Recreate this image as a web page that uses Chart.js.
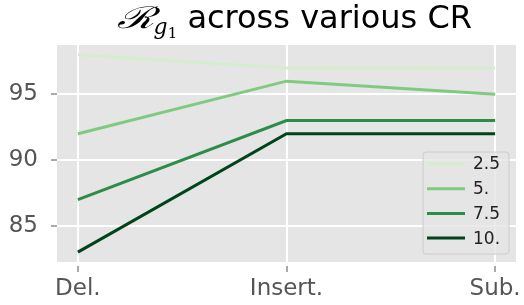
<!DOCTYPE html>
<html>
<head>
<meta charset="utf-8">
<script src="https://cdn.jsdelivr.net/npm/chart.js@4.4.0/dist/chart.umd.min.js"></script>
<style>
  html, body { margin: 0; padding: 0; background: #fff; }
  #wrap { width: 524px; height: 305px; }
</style>
</head>
<body>
<div id="wrap"><canvas id="chart"></canvas></div>
<script>
const categories = ["Del.", "Insert.", "Sub."];
const seriesLabels = ["2.5", "5.", "7.5", "10."];
const cr25 = [98, 97, 97];
const cr5 = [92, 96, 95];
const cr75 = [87, 93, 93];
const cr10 = [83, 92, 92];
const yTicks = [85, 90, 95];
const colors = ["#d3eecd", "#80ca7f", "#2c8c48", "#00441b"];

const seriesValues = [cr25, cr5, cr75, cr10];
const textGray = "#555555";

// gray panel behind the plot
const panelBg = {
  id: "panelBg",
  beforeDraw(chart) {
    const { ctx, chartArea: a } = chart;
    ctx.save();
    ctx.fillStyle = "#e5e5e5";
    ctx.fillRect(a.left, a.top, a.right - a.left, a.bottom - a.top);
    ctx.restore();
  }
};

// title with the math subscript
const mathTitle = {
  id: "mathTitle",
  afterDraw(chart) {
    const { ctx } = chart;
    const parts = [
      { t: "\u211B", font: "italic 30px 'DejaVu Serif'", dy: 0, w: 37 },
      { t: "g", font: "italic 22px 'DejaVu Serif'", dy: 6 },
      { t: "1", font: "15px 'DejaVu Serif'", dy: 10 },
      { t: " across various CR", font: "32px 'DejaVu Sans'", dy: 0 }
    ];
    ctx.save();
    let total = 0;
    parts.forEach(p => {
      ctx.font = p.font;
      p.nat = ctx.measureText(p.t).width;
      if (!p.w) p.w = p.nat;
      total += p.w;
    });
    let x = 472 - total;
    const base = 28;
    ctx.fillStyle = "#000";
    ctx.textBaseline = "alphabetic";
    parts.forEach(p => {
      ctx.font = p.font;
      ctx.save();
      ctx.translate(x, base + p.dy);
      ctx.scale(p.w / p.nat, 1);
      ctx.fillText(p.t, 0, 0);
      ctx.restore();
      x += p.w;
    });
    ctx.restore();
  }
};

// legend box inside the plot, lower right
const boxLegend = {
  id: "boxLegend",
  afterDatasetsDraw(chart) {
    const { ctx } = chart;
    const x0 = 423, y0 = 152, w = 86, h = 102;
    ctx.save();
    ctx.beginPath();
    ctx.roundRect(x0, y0, w, h, 3);
    ctx.fillStyle = "rgba(229,229,229,0.8)";
    ctx.fill();
    ctx.strokeStyle = "#cccccc";
    ctx.lineWidth = 1;
    ctx.stroke();
    ctx.font = "17px 'DejaVu Sans'";
    ctx.textBaseline = "middle";
    chart.data.datasets.forEach((ds, i) => {
      const y = y0 + 12 + i * 24.7;
      ctx.strokeStyle = ds.borderColor;
      ctx.lineWidth = 3;
      ctx.beginPath();
      ctx.moveTo(x0 + 4, y);
      ctx.lineTo(x0 + 42, y);
      ctx.stroke();
      ctx.fillStyle = "#222";
      ctx.fillText(ds.label, x0 + 50, y + 1);
    });
    ctx.restore();
  }
};

const datasets = seriesValues.map((vals, i) => ({
  label: seriesLabels[i],
  data: vals.map((v, j) => ({ x: j, y: v })),
  borderColor: colors[i],
  backgroundColor: colors[i],
  borderWidth: 3,
  pointRadius: 0,
  tension: 0,
  fill: false
}));

const gridCommon = {
  color: "#ffffff",
  lineWidth: 2,
  tickColor: textGray,
  tickWidth: 1,
  tickLength: 10,
  tickBorderDash: [0, 4, 6, 100]
};

new Chart(document.getElementById("chart"), {
  type: "line",
  data: { datasets },
  options: {
    responsive: true,
    maintainAspectRatio: false,
    animation: false,
    layout: { padding: { top: 45, right: 7, left: 0, bottom: 0 } },
    plugins: {
      legend: { display: false },
      tooltip: { enabled: false }
    },
    scales: {
      x: {
        type: "linear",
        min: -0.1,
        max: 2.1,
        afterBuildTicks: axis => { axis.ticks = categories.map((_, i) => ({ value: i })); },
        afterFit: axis => { axis.height = 43; },
        ticks: {
          callback: v => categories[v],
          color: textGray,
          font: { family: "DejaVu Sans", size: 23 },
          padding: 3,
          maxRotation: 0
        },
        grid: gridCommon,
        border: { display: false }
      },
      y: {
        type: "linear",
        min: 82.25,
        max: 98.75,
        afterBuildTicks: axis => { axis.ticks = yTicks.map(v => ({ value: v })); },
        afterFit: axis => { axis.width = 57; },
        ticks: {
          color: textGray,
          font: { family: "DejaVu Sans", size: 23 },
          padding: 9
        },
        grid: gridCommon,
        border: { display: false }
      }
    }
  },
  plugins: [panelBg, mathTitle, boxLegend]
});
</script>
</body>
</html>
